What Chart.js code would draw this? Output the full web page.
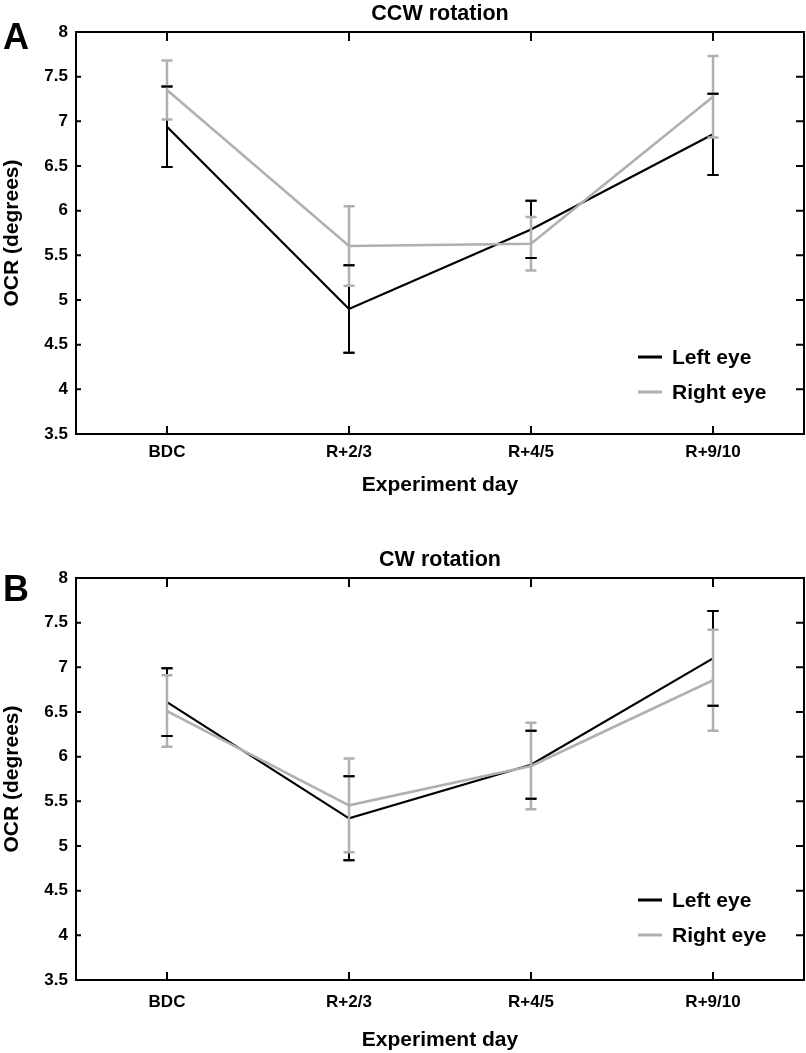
<!DOCTYPE html>
<html>
<head>
<meta charset="utf-8">
<script src="https://cdn.jsdelivr.net/npm/chart.js@4.4.1/dist/chart.umd.min.js"></script>
<style>
  html, body { margin: 0; padding: 0; background: #fff; }
  .panel { position: relative; width: 806px; }
  #wrapA { height: 520px; }
  #wrapB { height: 533px; }
</style>
</head>
<body>
<div class="panel" id="wrapA"><canvas id="chartA" width="806" height="520"></canvas></div>
<div class="panel" id="wrapB"><canvas id="chartB" width="806" height="533"></canvas></div>
<script>
const days = ["BDC", "R+2/3", "R+4/5", "R+9/10"];
const yTicks = [3.5, 4, 4.5, 5, 5.5, 6, 6.5, 7, 7.5, 8];

// panel A - CCW rotation
const ccwLeft = [6.94, 4.9, 5.79, 6.855];
const ccwLeftErr = [0.45, 0.49, 0.32, 0.455];
const ccwRight = [7.35, 5.605, 5.63, 7.275];
const ccwRightErr = [0.33, 0.445, 0.3, 0.455];

// panel B - CW rotation
const cwLeft = [6.61, 5.31, 5.91, 7.1];
const cwLeftErr = [0.38, 0.47, 0.38, 0.53];
const cwRight = [6.51, 5.455, 5.895, 6.855];
const cwRightErr = [0.4, 0.525, 0.485, 0.565];

const FONT = "'Liberation Sans', Arial, Helvetica, sans-serif";
const GREY = "#b0b0b0";

// error bars: vertical lines first, then caps, black caps end on top
const errorBars = {
  id: "errorBars",
  afterDatasetsDraw(chart) {
    const ctx = chart.ctx;
    const x = chart.scales.x, y = chart.scales.y;
    const sets = chart.data.datasets;
    const drawSet = (ds, caps, stems) => {
      ctx.strokeStyle = ds.borderColor;
      ctx.lineWidth = ds.barWidth;
      ds.data.forEach((v, i) => {
        const px = x.getPixelForValue(i);
        const hi = y.getPixelForValue(v + ds.errors[i]);
        const lo = y.getPixelForValue(v - ds.errors[i]);
        ctx.beginPath();
        if (stems) { ctx.moveTo(px, hi); ctx.lineTo(px, lo); }
        if (caps) {
          ctx.moveTo(px - 5.5, hi); ctx.lineTo(px + 5.5, hi);
          ctx.moveTo(px - 5.5, lo); ctx.lineTo(px + 5.5, lo);
        }
        ctx.stroke();
      });
    };
    ctx.save();
    drawSet(sets[0], true, true);
    drawSet(sets[1], true, true);
    drawSet(sets[0], true, false);
    ctx.restore();
  }
};

// box frame with inward ticks, title over the plot, legend, panel letter
const decor = {
  id: "decor",
  afterDraw(chart, args, opts) {
    const ctx = chart.ctx;
    const a = chart.chartArea;
    const x = chart.scales.x, y = chart.scales.y;
    ctx.save();
    ctx.strokeStyle = "#000";
    ctx.lineWidth = 2;
    ctx.strokeRect(a.left, a.top, a.right - a.left, a.bottom - a.top);
    ctx.beginPath();
    x.ticks.forEach((t, i) => {
      const px = x.getPixelForTick(i);
      ctx.moveTo(px, a.top); ctx.lineTo(px, a.top + 9);
      ctx.moveTo(px, a.bottom); ctx.lineTo(px, a.bottom - 8);
    });
    y.ticks.forEach((t, i) => {
      const py = y.getPixelForTick(i);
      ctx.moveTo(a.right, py); ctx.lineTo(a.right - 8, py);
      ctx.moveTo(a.left, py); ctx.lineTo(a.left + 5, py);
    });
    ctx.stroke();

    ctx.fillStyle = "#000";
    ctx.textBaseline = "middle";

    // title, centred on the plot box
    ctx.font = "bold 21.5px " + FONT;
    ctx.textAlign = "center";
    ctx.fillText(opts.title, (a.left + a.right) / 2, a.top - 18);

    // legend
    ctx.font = "bold 21px " + FONT;
    ctx.textAlign = "left";
    chart.data.datasets.forEach((ds, i) => {
      const ly = a.top + opts.legendTop + i * 35;
      ctx.strokeStyle = ds.borderColor;
      ctx.lineWidth = 3;
      ctx.beginPath();
      ctx.moveTo(a.right - 166, ly); ctx.lineTo(a.right - 142, ly);
      ctx.stroke();
      ctx.fillText(ds.label, a.right - 132, ly + 1);
    });

    // panel letter
    ctx.font = "bold 36px " + FONT;
    ctx.textAlign = "center";
    ctx.fillText(opts.letter, 16, opts.letterY);
    ctx.restore();
  }
};

function makeChart(id, title, left, leftErr, right, rightErr, lay) {
  return new Chart(document.getElementById(id), {
    type: "line",
    data: {
      labels: days,
      datasets: [
        { label: "Left eye", data: left, errors: leftErr, borderColor: "#000", borderWidth: 2.2, barWidth: 2, order: 2 },
        { label: "Right eye", data: right, errors: rightErr, borderColor: GREY, borderWidth: 2.6, barWidth: 2.5, order: 1 },
      ],
    },
    options: {
      responsive: false,
      animation: false,
      devicePixelRatio: 1,
      layout: { padding: { left: 0, right: 2, top: lay.top, bottom: 0 } },
      elements: { point: { radius: 0, hoverRadius: 0 }, line: { tension: 0 } },
      plugins: {
        legend: { display: false },
        tooltip: { enabled: false },
        title: { display: false },
        decor: { title: title, letter: lay.letter, letterY: lay.letterY, legendTop: lay.legendTop },
      },
      scales: {
        x: {
          type: "category",
          offset: true,
          grid: { display: false, drawTicks: false },
          border: { display: false },
          ticks: { color: "#000", padding: lay.xPad, font: { family: FONT, size: 17, weight: "bold" } },
          title: {
            display: true,
            text: "Experiment day",
            color: "#000",
            font: { family: FONT, size: 21, weight: "bold" },
            padding: { top: 0, bottom: lay.xTitleBottom },
          },
          afterFit: (s) => { s.height = lay.xHeight; },
        },
        y: {
          min: 3.5,
          max: 8,
          grid: { display: false, drawTicks: false },
          border: { display: false },
          afterBuildTicks: (s) => { s.ticks = yTicks.map((v) => ({ value: v })); },
          ticks: {
            color: "#000",
            padding: 8,
            font: { family: FONT, size: 17, weight: "bold" },
            callback: (v) => String(v),
          },
          title: {
            display: true,
            text: "OCR (degrees)",
            color: "#000",
            font: { family: FONT, size: 21, weight: "bold" },
            padding: { top: 0, bottom: 0 },
          },
          afterFit: (s) => { s.width = 76; },
        },
      },
    },
    plugins: [errorBars, decor],
  });
}

makeChart("chartA", "CCW rotation", ccwLeft, ccwLeftErr, ccwRight, ccwRightErr, {
  top: 32, xHeight: 86, xPad: 8, xTitleBottom: 22,
  letter: "A", letterY: 39, legendTop: 325,
});
makeChart("chartB", "CW rotation", cwLeft, cwLeftErr, cwRight, cwRightErr, {
  top: 58, xHeight: 73, xPad: 12, xTitleBottom: 0,
  letter: "B", letterY: 71, legendTop: 322,
});
</script>
</body>
</html>
